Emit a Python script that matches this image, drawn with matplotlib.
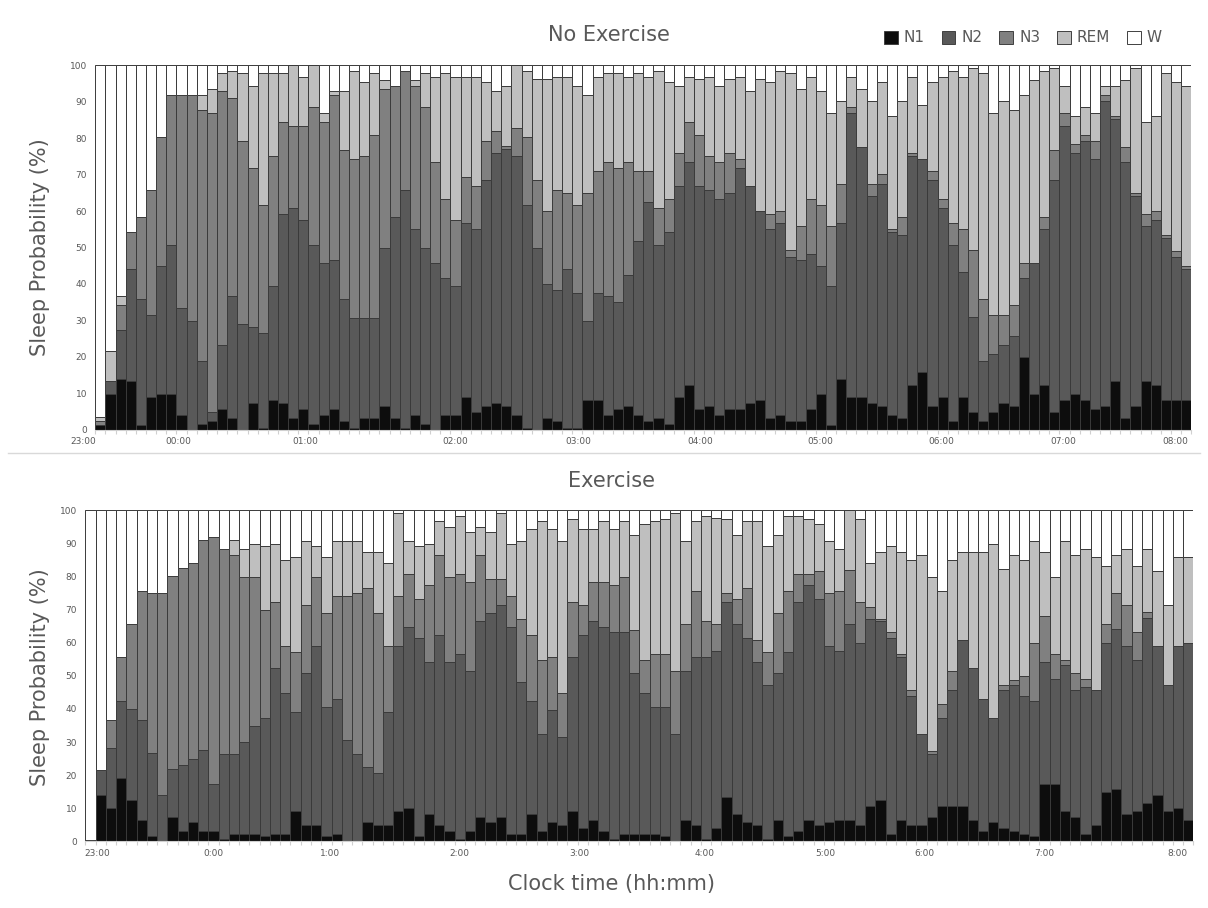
import matplotlib
matplotlib.use("Agg")
import matplotlib.pyplot as plt
from matplotlib.patches import Patch
import numpy as np

stages = ["N1", "N2", "N3", "REM", "W"]
colors = ["#0d0d0d", "#595959", "#808080", "#bfbfbf", "#ffffff"]

# ---- No Exercise (5-min bins, 23:00 -> 08:00) ----
noex_n1 = [1.4, 9.8, 14, 13.3, 1.4, 8.9, 9.8, 9.8, 3.9, 0, 1.6, 2.3, 5.7, 3.2, 0, 7.2, 0.6, 8.1,
           7.2, 3.2, 5.7, 1.6, 3.9, 5.7, 2.3, 0.6, 3.2, 3.2, 6.4, 3.2, 0.6, 3.9, 1.6, 0, 3.9, 3.9,
           8.9, 4.8, 6.4, 7.2, 6.4, 3.9, 0.6, 0, 3.2, 2.3, 0.6, 0.6, 8.1, 8.1, 3.9, 5.7, 6.4, 3.9,
           2.3, 3.2, 1.6, 8.9, 12.4, 5.7, 6.4, 3.9, 5.7, 5.7, 7.2, 8.1, 3.2, 3.9, 2.3, 2.3, 5.7, 9.8,
           1.4, 14, 8.9, 8.9, 7.2, 6.4, 3.9, 3.2, 12.4, 15.7, 6.4, 8.9, 2.3, 8.9, 4.8, 2.3, 4.8, 7.2,
           6.4, 19.9, 9.8, 12.4, 4.8, 8.1, 9.8, 8.1, 5.7, 6.4, 13.3, 3.2, 6.4, 13.3, 12.4, 8.1, 8.1, 8.1]
noex_n2 = [0, 3.5, 13.4, 30.9, 34.4, 22.7, 35.2, 41, 29.5, 29.9, 17.3, 2.5, 17.6, 33.5, 29, 21.1, 25.9, 31.2,
           52.1, 57.6, 51.8, 49.2, 41.8, 41, 33.5, 30, 27.4, 27.4, 43.6, 55.2, 65.3, 51.1, 48.4, 45.7, 37.7, 35.4,
           47.8, 50.2, 62, 68.7, 70.5, 71.2, 61.2, 50, 36.8, 35.9, 43.6, 36.9, 21.8, 29.4, 32.8, 29.3, 36.1, 47.8,
           60.2, 47.6, 52.6, 57.9, 61.1, 61.1, 59.5, 59.5, 59.3, 66.1, 59.6, 51.9, 51.8, 52.8, 45.2, 44.4, 42.6, 35.2,
           37.9, 42.7, 78, 68.7, 57, 61.1, 50.3, 50.1, 62.7, 58.6, 62, 51.9, 48.5, 34.5, 26, 16.6, 16, 16.1,
           19.4, 21.7, 35.9, 42.6, 63.6, 75.3, 66.2, 71.2, 68.6, 83.7, 71.9, 70.3, 57.8, 42.5, 45.1, 44.4, 39.4, 36.1]
noex_n3 = [0.9, 0, 6.7, 10, 22.5, 34.3, 35.2, 41, 58.4, 61.9, 68.9, 82.1, 69.6, 54.3, 50.3, 43.5, 35.3, 35.8,
           25.1, 22.5, 25.8, 37.7, 38.7, 45.1, 40.9, 43.7, 44.4, 50.4, 43.5, 36, 32.6, 39.4, 38.5, 27.8, 21.8, 18.2,
           12.7, 11.8, 10.9, 6, 0.9, 7.7, 18.4, 18.4, 20, 27.7, 20.8, 24.3, 35.1, 33.4, 36.8, 36.8, 31, 19.2,
           8.4, 10, 9.2, 9.1, 10.9, 14.2, 9.2, 10.1, 10.9, 2.5, 0, 0, 4.3, 3.3, 1.7, 9.1, 15.1, 16.8,
           16.5, 10.8, 1.6, 0, 3.3, 2.7, 0.8, 5, 0.9, 0, 2.5, 2.6, 5.9, 11.6, 18.4, 16.9, 10.8, 8.3,
           8.3, 4.1, 0, 3.3, 8.4, 3.5, 2.4, 1.7, 5, 1.7, 0.8, 4.1, 0.8, 3.5, 2.5, 0.8, 1.6, 0.8]
noex_rem = [1.1, 8.2, 2.6, 0, 0, 0, 0, 0, 0, 0, 4, 6.6, 5, 7.5, 18.6, 22.4, 36.1, 22.8,
            13.5, 16.7, 13.5, 11.5, 2.5, 1.1, 16.2, 24.2, 20.3, 16.9, 2.5, 0, 0, 1.6, 9.4, 23.3, 34.5, 39.3,
            27.4, 30, 16, 11, 16.6, 17.2, 18.3, 27.8, 36.2, 30.9, 31.8, 32.4, 26.8, 25.9, 24.4, 26.1, 23.3, 27,
            25.9, 37.7, 31.9, 18.3, 12.4, 15.2, 21.7, 20.7, 20.3, 22.5, 26.1, 36.2, 36, 38.5, 48.7, 37.7, 33.4, 31.1,
            31.1, 22.6, 8.3, 15.9, 22.6, 25.1, 31, 31.8, 20.8, 14.9, 24.4, 33.4, 41.8, 41.8, 50.1, 62.1, 55.3, 58.5,
            53.7, 46.1, 50.3, 40.2, 22.5, 7.3, 7.6, 7.5, 7.6, 2.6, 8.4, 18.4, 34.3, 25.1, 26, 44.6, 46.2, 49.2]

# ---- Exercise ----
ex_n1 = [0.5, 14, 10, 19, 12.4, 6.5, 1.5, 0, 7.4, 3.2, 5.7, 3.2, 3.2, 0.7, 2.3, 2.3, 2.3, 1.5,
         2.3, 2.3, 9.1, 4.8, 4.8, 1.5, 2.3, 0, 0, 5.7, 4.8, 4.8, 9.1, 10, 1.5, 8.3, 4.8, 3.2,
         0.7, 3.2, 7.4, 5.7, 7.4, 2.3, 2.3, 8.3, 3.2, 5.7, 4.8, 9.1, 4, 6.5, 3.2, 0.7, 2.3, 2.3,
         2.3, 2.3, 1.5, 0, 6.5, 4.8, 0.7, 4, 13.3, 8.3, 5.7, 4.8, 0.7, 6.5, 1.5, 3.2, 6.5, 4.8,
         5.7, 6.5, 6.5, 4.8, 10.8, 12.4, 2.3, 6.5, 4.8, 4.8, 7.4, 10.8, 10.8, 10.8, 6.5, 3.2, 5.7, 4,
         3.2, 2.3, 1.5, 17.3, 17.3, 9.1, 7.4, 2.3, 4.8, 14.8, 15.8, 8.3, 9.1, 11.6, 14, 9.1, 10, 6.5]
ex_n2 = [0, 7.5, 18.2, 23.3, 27.6, 30, 25.2, 14, 14.3, 20, 19.2, 24.3, 14.1, 25.8, 24.2, 27.6, 32.6, 35.8,
         50.1, 42.5, 29.9, 45.9, 54.1, 39.1, 40.8, 30.7, 26.5, 16.7, 15.8, 34.2, 49.8, 54.8, 59.9, 45.8, 57.5, 50.9,
         55.9, 48.4, 59.3, 63.3, 64.1, 62.5, 45.8, 34, 29.2, 34.1, 26.7, 46.6, 58.3, 60.2, 61.6, 62.4, 60.8, 48.4,
         42.5, 38.3, 39.1, 32.4, 45.1, 50.9, 55, 53.4, 59.1, 57.4, 55.7, 49.3, 46.6, 44.2, 55.7, 69.2, 70.9, 68.4,
         53.2, 50.9, 59.3, 55.1, 56.5, 54.3, 59.1, 49.2, 39.2, 27.6, 19.1, 26.5, 34.8, 49.9, 45.9, 39.9, 31.6, 41.6,
         44.1, 41.7, 40.8, 36.8, 31.7, 44.1, 38.2, 44.2, 40.8, 45.1, 48.3, 50.8, 45.8, 55.9, 45.1, 38.2, 49.1, 53.4]
ex_n3 = [0, 0, 8.3, 13.5, 25.8, 39.2, 48.3, 61, 58.4, 59.3, 59.2, 63.4, 74.5, 61.8, 60.1, 50, 45, 32.5,
         20, 14.1, 18.2, 20.8, 21, 28.4, 30.9, 43.3, 48.5, 54.1, 48.4, 19.9, 15.1, 16, 11.8, 23.3, 24.3, 25.8,
         24.3, 26.6, 19.9, 10.1, 7.6, 9.2, 19.2, 20, 22.5, 15.9, 13.3, 16.7, 9.2, 11.5, 13.4, 14.3, 16.8, 13.2,
         10.1, 16, 16, 19.2, 14.1, 20, 11, 8.3, 2.6, 7.5, 15.1, 6.6, 9.9, 18.3, 18.5, 8.4, 3.4, 8.4,
         16.1, 18.3, 16.3, 12.5, 3.4, 0.6, 1.8, 0.9, 1.6, 0, 0.7, 4.2, 6, 0, 0, 0, 0, 1.7,
         1.5, 5.8, 17.6, 14.1, 7.6, 1.7, 5.1, 2.5, 0, 5.9, 10.9, 12.4, 8.3, 1.7, 0, 0, 0, 0]
ex_rem = [0, 0, 0, 0, 0, 0, 0, 0, 0, 0, 0, 0, 0, 0, 4.3, 8.4, 10, 19.3,
          17.5, 26, 28.6, 19.3, 9.2, 16.8, 16.8, 16.8, 15.8, 10.9, 18.4, 25.2, 25.2, 10, 15.9, 12.5, 10.1, 15.1,
          17.5, 15.2, 8.4, 14.3, 20.1, 15.9, 23.5, 31.9, 41.8, 38.5, 46, 25.1, 22.7, 16, 18.5, 16.8, 16.8, 28.5,
          41, 40.1, 40.9, 47.6, 25.1, 21, 31.7, 32, 22.5, 19.2, 20.2, 36, 31.9, 23.4, 22.7, 17.6, 16.7, 14.3,
          15.8, 12.6, 17.9, 25.1, 13.4, 20.1, 25.9, 30.8, 39.3, 54.2, 52.7, 34.2, 33.3, 26.7, 35, 44.3, 52.6, 35.1,
          37.8, 35.1, 30.9, 19.2, 23.3, 35.9, 35.9, 39.3, 40.2, 17.5, 11.6, 16.8, 20.1, 19.1, 22.5, 24.2, 26.7, 25.9]

top_ticks = ["23:00", "00:00", "01:00", "02:00", "03:00", "04:00", "05:00", "06:00", "07:00", "08:00"]
bot_ticks = ["23:00", "0:00", "1:00", "2:00", "3:00", "4:00", "5:00", "6:00", "7:00", "8:00"]

# label anchor positions, in bar-index units (as placed in the original figure)
top_tick_pos = [-1.7, 7.65, 20.2, 34.95, 47.1, 59.1, 70.9, 82.9, 94.9, 105.9]
bot_tick_pos = [0.65, 11.95, 23.35, 36.0, 47.7, 59.9, 71.6, 81.3, 93.0, 106.0]

W_PX, H_PX = 1208, 908
fig = plt.figure(figsize=(W_PX / 100, H_PX / 100), dpi=100)
fig.patch.set_facecolor("white")

txt_col = "#595959"
edge_col = "#3a3a3a"


def rect(l, t, r, b):
    return [l / W_PX, 1 - b / H_PX, (r - l) / W_PX, (b - t) / H_PX]


def draw(ax, n1, n2, n3, rem, ticklabels, tickpos):
    n = len(n1)
    x = np.arange(n)
    data = [np.array(n1, float), np.array(n2, float), np.array(n3, float), np.array(rem, float)]
    wake = 100 - sum(data)
    data.append(np.clip(wake, 0, None))
    bottom = np.zeros(n)
    for vals, col in zip(data, colors):
        ax.bar(x, vals, width=1.0, bottom=bottom, color=col, edgecolor=edge_col, linewidth=0.7)
        bottom = bottom + vals
    ax.set_xlim(-0.5, n - 0.5)
    ax.set_ylim(0, 100)
    ax.set_yticks(range(0, 101, 10))
    ax.tick_params(axis="y", length=0, labelsize=6.5, labelcolor=txt_col, pad=6)
    ax.set_xticks(np.arange(n + 1) - 0.5)
    ax.set_xticklabels([])
    ax.tick_params(axis="x", length=3, color="#d0d0d0")
    for lab, p in zip(ticklabels, tickpos):
        ax.annotate(lab, xy=(p, 0), xycoords=("data", "axes fraction"), xytext=(0, -8.6),
                    textcoords="offset points", ha="center", va="center", fontsize=6.5,
                    color=txt_col, annotation_clip=False)
    for s in ["top", "right", "left"]:
        ax.spines[s].set_visible(False)
    ax.spines["bottom"].set_color("#d0d0d0")


ax1 = fig.add_axes(rect(95.3, 65.3, 1191.3, 429.7))
draw(ax1, noex_n1, noex_n2, noex_n3, noex_rem, top_ticks, top_tick_pos)
ax2 = fig.add_axes(rect(85.3, 510.3, 1193.3, 841.3))
draw(ax2, ex_n1, ex_n2, ex_n3, ex_rem, bot_ticks, bot_tick_pos)

fig.text(609 / W_PX, 1 - 35 / H_PX, "No Exercise", ha="center", va="center", fontsize=15, color=txt_col)
fig.text(612 / W_PX, 1 - 481 / H_PX, "Exercise", ha="center", va="center", fontsize=15, color=txt_col)
fig.text(40 / W_PX, 1 - 247 / H_PX, "Sleep Probability (%)", rotation=90, ha="center", va="center",
         fontsize=15, color=txt_col)
fig.text(40 / W_PX, 1 - 677 / H_PX, "Sleep Probability (%)", rotation=90, ha="center", va="center",
         fontsize=15, color=txt_col)
fig.text(612 / W_PX, 1 - 884 / H_PX, "Clock time (hh:mm)", ha="center", va="center", fontsize=15,
         color=txt_col)

handles = [Patch(facecolor=c, edgecolor="#404040", linewidth=0.7) for c in colors]
fig.legend(handles, stages, loc="center", bbox_to_anchor=(1023 / W_PX, 1 - 38 / H_PX), ncol=5,
           frameon=False, fontsize=11, handlelength=0.9, handleheight=0.9, handletextpad=0.4,
           columnspacing=1.1, labelcolor=txt_col)

# panel separator
fig.add_artist(plt.Line2D([8 / W_PX, 1200 / W_PX], [1 - 453 / H_PX, 1 - 453 / H_PX], color="#d9d9d9", lw=1))

fig.savefig("out.png", dpi=100, facecolor="white")
